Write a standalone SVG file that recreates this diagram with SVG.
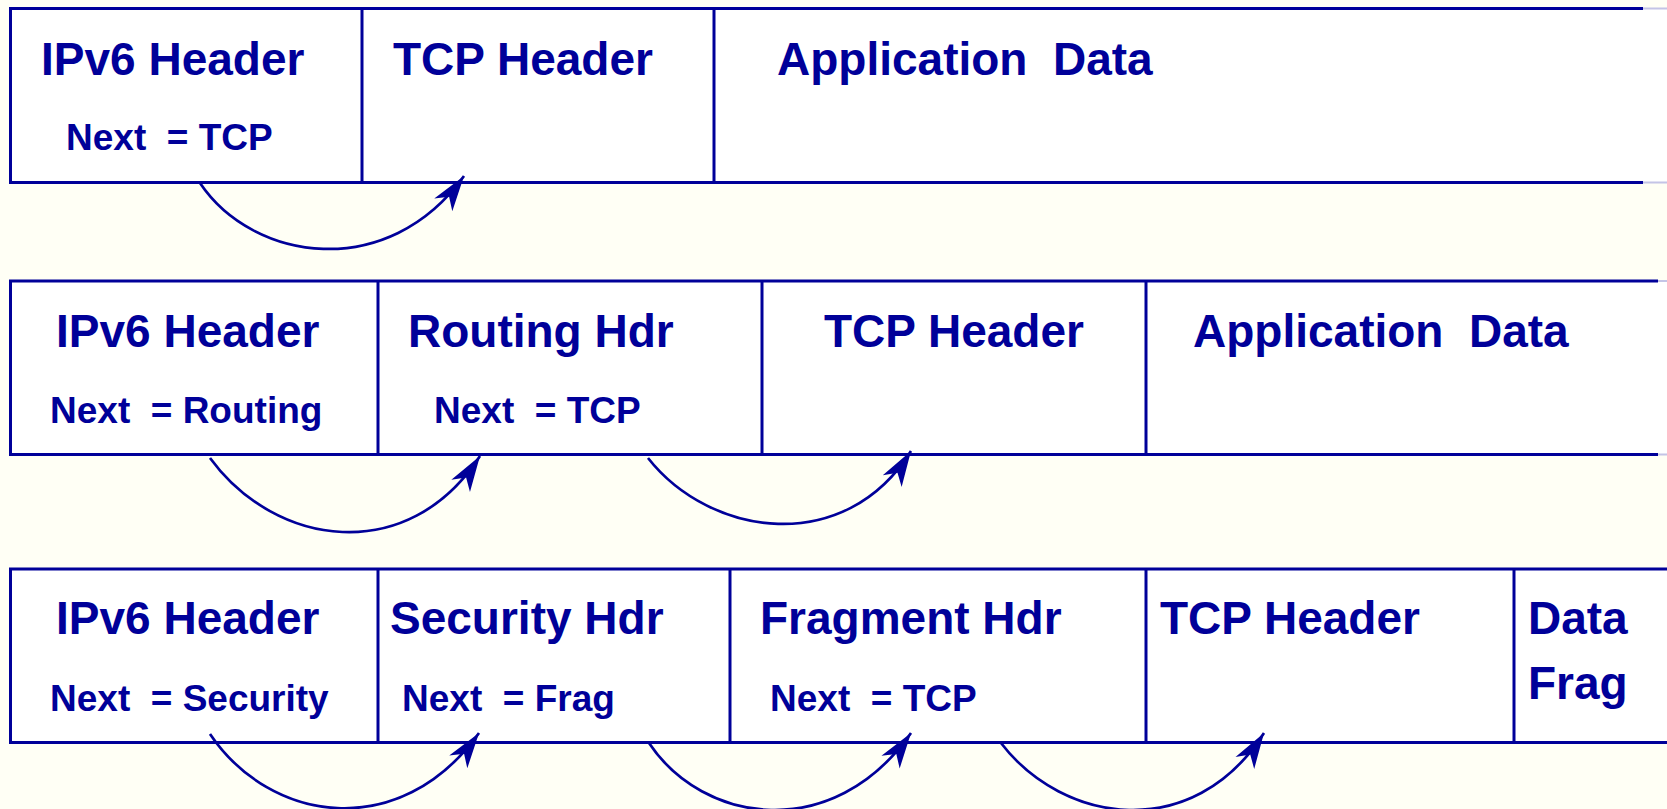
<svg xmlns="http://www.w3.org/2000/svg" width="1667" height="809" viewBox="0 0 1667 809">
<style>
.bg{fill:#FFFFF5}
.box{fill:#FFFFFF;stroke:none}
.ln{stroke:#000099;stroke-width:3;fill:none}
.pale{stroke:#C4C4E6;stroke-width:2;fill:none}
.t{font-family:"Liberation Sans",Arial,sans-serif;font-weight:bold;font-size:46px;fill:#000099;white-space:pre}
.n{font-family:"Liberation Sans",Arial,sans-serif;font-weight:bold;font-size:37px;fill:#000099;white-space:pre}
.arc{stroke:#000099;stroke-width:2.7;fill:none;marker-end:url(#ah)}
</style>
<defs>
<marker id="ah" markerUnits="userSpaceOnUse" orient="auto" markerWidth="40" markerHeight="30" viewBox="-34 -13 36 26" refX="0" refY="0">
<path d="M0,0 L-32,-10 L-23,0 L-32,10 Z" fill="#000099"/>
</marker>
</defs>
<rect class="bg" x="0" y="0" width="1667" height="809"/>

<g id="row1">
<rect class="box" x="10.5" y="8.5" width="1656.5" height="174"/>
<path class="ln" d="M1643,8.5 H10.5 V182.5 H1643"/>
<path class="pale" d="M1643,8.5 H1667 M1643,182.5 H1667"/>
<g id="r1-ipv6"><path class="ln" d="M362,8.5 V182.5"/><text class="t" x="41" y="75">IPv6 Header</text><text class="n" x="66" y="150">Next  = TCP</text></g>
<g id="r1-tcp"><path class="ln" d="M714,8.5 V182.5"/><text class="t" x="393" y="75">TCP Header</text></g>
<g id="r1-app"><text class="t" x="777" y="75">Application  Data</text></g>
</g>

<g id="row2">
<rect class="box" x="10.5" y="281" width="1656.5" height="173.5"/>
<path class="ln" d="M1658,281 H10.5 V454.5 H1658"/>
<path class="pale" d="M1658,281 H1667 M1658,454.5 H1667"/>
<g id="r2-ipv6"><path class="ln" d="M378,281 V454.5"/><text class="t" x="56" y="347">IPv6 Header</text><text class="n" x="50" y="423">Next  = Routing</text></g>
<g id="r2-routing"><path class="ln" d="M762,281 V454.5"/><text class="t" x="408" y="347">Routing Hdr</text><text class="n" x="434" y="423">Next  = TCP</text></g>
<g id="r2-tcp"><path class="ln" d="M1146,281 V454.5"/><text class="t" x="824" y="347">TCP Header</text></g>
<g id="r2-app"><text class="t" x="1193" y="347">Application  Data</text></g>
</g>

<g id="row3">
<rect class="box" x="10.5" y="569" width="1656.5" height="173.5"/>
<path class="ln" d="M1667,569 H10.5 V742.5 H1667"/>
<g id="r3-ipv6"><path class="ln" d="M378,569 V742.5"/><text class="t" x="56" y="634">IPv6 Header</text><text class="n" x="50" y="711">Next  = Security</text></g>
<g id="r3-sec"><path class="ln" d="M730,569 V742.5"/><text class="t" x="390" y="634">Security Hdr</text><text class="n" x="402" y="711">Next  = Frag</text></g>
<g id="r3-frag"><path class="ln" d="M1146,569 V742.5"/><text class="t" x="760" y="634">Fragment Hdr</text><text class="n" x="770" y="711">Next  = TCP</text></g>
<g id="r3-tcp"><path class="ln" d="M1514,569 V742.5"/><text class="t" x="1160" y="634">TCP Header</text></g>
<g id="r3-data"><text class="t" x="1528" y="634">Data</text><text class="t" x="1528" y="699">Frag</text></g>
</g>

<g id="connectors">
<path class="arc" d="M200,183 C253,262 388,282 464,176"/>
<path class="arc" d="M210,458 C275,547 408,567 480,456"/>
<path class="arc" d="M648,458 C710,537 845,557 911,451"/>
<path class="arc" d="M210,734 C270,823 400,843 479,733"/>
<path class="arc" d="M649,743 C703,824 833,844 911,733"/>
<path class="arc" d="M1001,743 C1063,824 1193,844 1264,733"/>
</g>
</svg>
